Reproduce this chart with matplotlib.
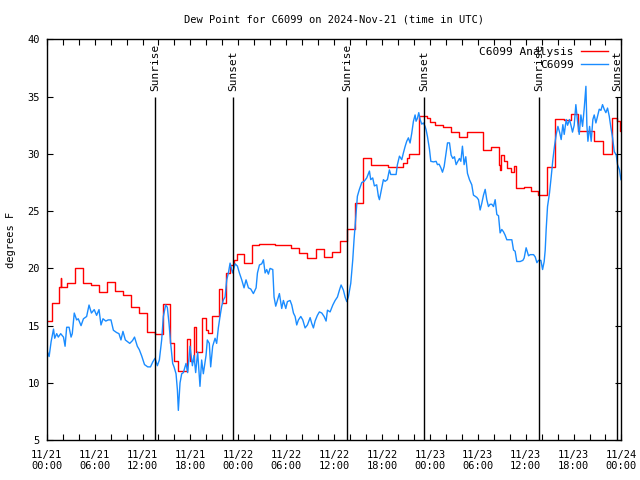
import numpy as np
import matplotlib
matplotlib.use('Agg')
import matplotlib.pyplot as plt
from matplotlib.ticker import MultipleLocator, FixedLocator

plt.rcParams['font.family'] = ['DejaVu Sans Mono']

# hours since 2024-11-21 00:00 UTC, dew point in degrees F
# analysis (hourly step values)
ana_hr = [0.0, 0.67, 1.6, 1.75, 1.85, 2.6, 3.5, 4.5, 5.6, 6.6, 7.6, 8.5, 9.6,
          10.5, 11.6, 12.6, 13.6, 14.6, 15.5, 15.9, 16.4, 17.6, 17.9, 18.5,
          18.7, 19.5, 19.9, 20.2, 20.7, 21.6, 22.0, 22.4, 23.0, 23.4, 23.9,
          24.7, 25.7, 26.6, 28.6, 30.6, 31.6, 32.65, 33.7, 34.7, 35.7, 36.75,
          37.6, 38.6, 39.6, 40.6, 42.7, 44.6, 45.1, 45.4, 46.6, 47.7, 48.0,
          48.7, 49.7, 50.7, 51.7, 52.7, 54.65, 55.65, 56.65, 56.8, 56.95,
          57.3, 57.7, 58.2, 58.6, 58.8, 59.75, 60.7, 61.6, 62.7, 63.7, 64.8,
          65.7, 66.6, 68.6, 69.7, 70.8, 71.4, 71.8, 72.0]
ana_val = [15.4, 17.0, 18.4, 19.2, 18.4, 18.7, 20.0, 18.7, 18.55, 17.9, 18.8,
           18.0, 17.7, 16.6, 16.1, 14.45, 14.3, 16.9, 13.5, 11.9, 11.0, 13.8,
           11.9, 14.85, 12.7, 15.7, 14.6, 14.4, 15.8, 18.2, 17.0, 19.6, 20.3,
           20.7, 21.25, 20.5, 22.0, 22.1, 22.0, 21.8, 21.35, 20.9, 21.7, 21.0,
           21.4, 22.4, 23.4, 25.7, 29.65, 29.0, 28.86, 29.2, 29.65, 30.0, 33.35,
           33.15, 32.8, 32.56, 32.36, 31.9, 31.5, 31.9, 30.3, 30.6, 29.0, 28.6,
           29.9, 29.4, 28.8, 28.4, 28.9, 27.0, 27.1, 26.8, 26.4, 28.86, 33.06,
           32.94, 33.5, 32.0, 31.1, 30.0, 33.15, 32.9, 32.0, 32.0]

# station observations
obs_hr = [0.0, 0.3, 0.55, 0.85, 1.0, 1.25, 1.45, 1.75, 2.1, 2.3, 2.5, 2.8,
          3.05, 3.2, 3.45, 3.75, 3.95, 4.3, 4.6, 5.0, 5.3, 5.6, 5.95, 6.25,
          6.55, 6.8, 7.05, 7.4, 7.7, 8.05, 8.35, 8.75, 9.05, 9.3, 9.55, 9.85,
          10.4, 10.75, 11.0, 11.35, 11.6, 11.9, 12.25, 12.65, 13.0, 13.3,
          13.57, 13.86, 14.11, 14.4, 14.61, 14.9, 15.11, 15.32, 15.53, 15.78,
          15.95, 16.2, 16.37, 16.49, 16.7, 16.91, 17.12, 17.45, 17.66, 17.95,
          18.25, 18.45, 18.66, 18.91, 19.2, 19.41, 19.62, 19.96, 20.12, 20.37,
          20.54, 20.79, 21.09, 21.29, 21.5, 21.71, 21.92, 22.13, 22.34, 22.55,
          22.76, 22.97, 23.17, 23.3, 23.6, 23.89, 24.14, 24.43, 24.72, 24.97,
          25.27, 25.56, 25.89, 26.23, 26.4, 26.65, 26.94, 27.15, 27.36, 27.56,
          27.77, 27.98, 28.32, 28.48, 28.69, 28.9, 29.15, 29.44, 29.65, 29.95,
          30.15, 30.49, 30.7, 30.91, 31.12, 31.32, 31.53, 31.83, 32.08, 32.37,
          32.66, 33.0, 33.2, 33.41, 33.62, 33.91, 34.16, 34.46, 34.75, 35.0,
          35.17, 35.5, 35.84, 36.13, 36.42, 36.67, 36.88, 37.17, 37.38, 37.59,
          37.79, 38.09, 38.34, 38.5, 38.75, 38.92, 39.17, 39.47, 39.76, 40.09,
          40.43, 40.59, 40.84, 41.05, 41.34, 41.55, 41.68, 41.97, 42.18, 42.39,
          42.68, 42.93, 43.1, 43.43, 43.77, 43.93, 44.19, 44.48, 44.69, 44.9,
          45.1, 45.31, 45.52, 45.73, 45.94, 46.15, 46.27, 46.44, 46.61, 46.78,
          46.98, 47.19, 47.4, 47.53, 47.7, 47.95, 48.12, 48.45, 48.78, 48.95,
          49.16, 49.37, 49.58, 49.79, 50.04, 50.21, 50.46, 50.66, 50.87, 51.08,
          51.29, 51.5, 51.71, 51.88, 52.08, 52.29, 52.5, 52.71, 52.96, 53.25,
          53.46, 53.67, 53.88, 54.09, 54.3, 54.51, 54.72, 54.93, 55.13, 55.34,
          55.55, 55.76, 55.97, 56.18, 56.39, 56.6, 56.8, 57.01, 57.22, 57.43,
          57.64, 57.97, 58.27, 58.48, 58.68, 58.89, 59.31, 59.65, 59.81, 60.06,
          60.36, 60.57, 60.99, 61.2, 61.41, 61.61, 61.91, 62.12, 62.32, 62.45,
          62.57, 62.74, 62.99, 63.2, 63.41, 63.62, 63.83, 64.04, 64.25, 64.45,
          64.66, 64.83, 65.08, 65.25, 65.5, 65.71, 65.87, 66.08, 66.29, 66.5,
          66.71, 66.92, 67.13, 67.34, 67.55, 67.67, 67.8, 68.01, 68.21, 68.42,
          68.59, 68.8, 69.01, 69.22, 69.43, 69.63, 69.84, 70.05, 70.26, 70.47,
          70.68, 70.89, 71.1, 71.35, 71.51, 71.76, 71.93]
obs_val = [12.9, 12.3, 13.6, 14.7, 13.9, 14.3, 14.0, 14.3, 14.0, 13.2, 14.86,
           14.86, 14.0, 14.3, 16.1, 15.5, 15.6, 15.0, 15.6, 15.8, 16.8, 16.1,
           16.4, 15.9, 16.4, 15.06, 15.6, 15.4, 15.5, 15.5, 14.6, 14.4, 14.3,
           13.75, 14.5, 13.75, 13.45, 13.7, 14.0, 13.2, 12.9, 12.35, 11.6, 11.4,
           11.4, 11.85, 12.15, 11.5, 12.0, 13.75, 15.8, 16.8, 16.6, 15.2, 13.45,
           11.7, 11.4, 10.8, 9.4, 7.6, 10.0, 10.8, 10.9, 11.7, 10.9, 13.2, 11.5,
           12.4, 10.9, 12.7, 9.7, 12.0, 10.8, 12.4, 13.75, 13.45, 11.4, 13.2,
           13.9, 13.45, 14.8, 15.8, 16.7, 17.25, 17.5, 19.0, 19.6, 20.46, 19.9,
           19.6, 20.4, 20.2, 19.6, 19.0, 18.3, 19.0, 18.3, 18.2, 17.8, 18.3,
           19.6, 20.3, 20.4, 20.75, 19.6, 19.9, 19.5, 20.0, 19.9, 17.5, 16.7,
           17.2, 17.8, 16.5, 17.2, 16.5, 17.1, 17.2, 16.8, 16.1, 15.8, 15.06,
           15.5, 15.8, 15.5, 14.8, 15.06, 15.7, 15.2, 14.8, 15.4, 15.9, 16.2,
           16.1, 15.8, 15.4, 16.35, 16.2, 16.8, 17.2, 17.5, 18.1, 18.55, 18.1,
           17.5, 17.1, 17.5, 18.7, 20.75, 22.5, 24.8, 26.3, 26.9, 27.5, 27.6,
           27.9, 28.5, 27.75, 27.9, 27.2, 27.3, 26.3, 26.0, 27.0, 27.75, 27.6,
           27.75, 28.6, 28.2, 28.2, 28.2, 29.05, 29.8, 29.5, 30.1, 30.65, 31.1,
           31.4, 30.95, 31.8, 32.85, 33.4, 32.85, 33.1, 33.6, 33.0, 32.6, 32.7,
           32.4, 32.1, 31.5, 30.4, 29.35, 29.3, 29.35, 29.06, 29.1, 28.8, 28.4,
           28.9, 30.1, 30.96, 30.96, 29.9, 29.6, 29.75, 29.06, 29.35, 29.6,
           29.35, 30.67, 29.06, 29.75, 28.3, 27.75, 27.3, 26.4, 26.3, 26.2,
           26.0, 25.1, 25.7, 26.4, 26.9, 26.0, 25.4, 25.6, 25.6, 25.4, 26.0,
           24.7, 24.6, 23.1, 23.4, 23.2, 22.9, 22.5, 22.5, 22.5, 21.6, 21.5,
           20.6, 20.6, 20.7, 20.9, 21.8, 21.1, 21.2, 21.2, 21.0, 20.5, 20.7,
           20.7, 19.9, 20.6, 21.6, 23.4, 25.4, 26.6, 28.0, 29.5, 30.7, 31.7,
           32.4, 31.9, 31.25, 32.55, 31.7, 33.0, 32.5, 33.0, 32.4, 31.9, 32.5,
           34.3, 32.85, 31.7, 33.4, 32.4, 34.0, 35.9, 32.5, 31.1, 32.4, 31.1,
           33.0, 33.4, 32.7, 33.3, 33.9, 33.8, 34.3, 33.9, 33.6, 34.0, 33.3,
           32.3, 31.4, 30.2, 29.9, 29.06, 28.6, 27.75]

sun_hr = [13.55, 23.35, 37.63, 47.3, 61.7, 71.45]
sun_lbl = ['Sunrise', 'Sunset', 'Sunrise', 'Sunset', 'Sunrise', 'Sunset']

tick_hr = list(range(0, 73, 6))
tick_lbl = ['11/21\n00:00', '11/21\n06:00', '11/21\n12:00', '11/21\n18:00',
            '11/22\n00:00', '11/22\n06:00', '11/22\n12:00', '11/22\n18:00',
            '11/23\n00:00', '11/23\n06:00', '11/23\n12:00', '11/23\n18:00',
            '11/24\n00:00']

fig = plt.figure(figsize=(6.4, 4.8), dpi=100)
ax = fig.add_axes([0.073, 0.083, 0.898, 0.835])

ax.plot(ana_hr, ana_val, color='#ff0000', lw=1.0, drawstyle='steps-post',
        label='C6099 Analysis')
ax.plot(obs_hr, obs_val, color='#1a8cff', lw=1.0, label='C6099')

for h, s in zip(sun_hr, sun_lbl):
    ax.vlines(h, 5, 35, color='black', lw=1.0)
    ax.text(h, 35.5, s, rotation=90, ha='center', va='bottom', fontsize=8)

ax.set_xlim(0, 72)
ax.set_ylim(5, 40)
ax.xaxis.set_major_locator(FixedLocator(tick_hr))
ax.set_xticklabels(tick_lbl)
ax.xaxis.set_minor_locator(MultipleLocator(2))
ax.yaxis.set_major_locator(MultipleLocator(5))
ax.tick_params(which='both', direction='in', top=True, right=True,
               length=4, width=0.8, labelsize=7.5)
ax.tick_params(axis='x', pad=7)
ax.tick_params(axis='y', pad=5)
for s in ax.spines.values():
    s.set_linewidth(1.0)

ax.set_title('Dew Point for C6099 on 2024-Nov-21 (time in UTC)',
             fontsize=7.5, pad=12)
ax.set_ylabel('degrees F', fontsize=7.5, labelpad=8)

ax.legend(loc='upper right', bbox_to_anchor=(0.977, 0.982), markerfirst=False,
          frameon=False, fontsize=8, handlelength=2.45, handletextpad=0.65,
          labelspacing=0.27, borderaxespad=0.0, borderpad=0.0)

fig.savefig('out.png', dpi=100)
